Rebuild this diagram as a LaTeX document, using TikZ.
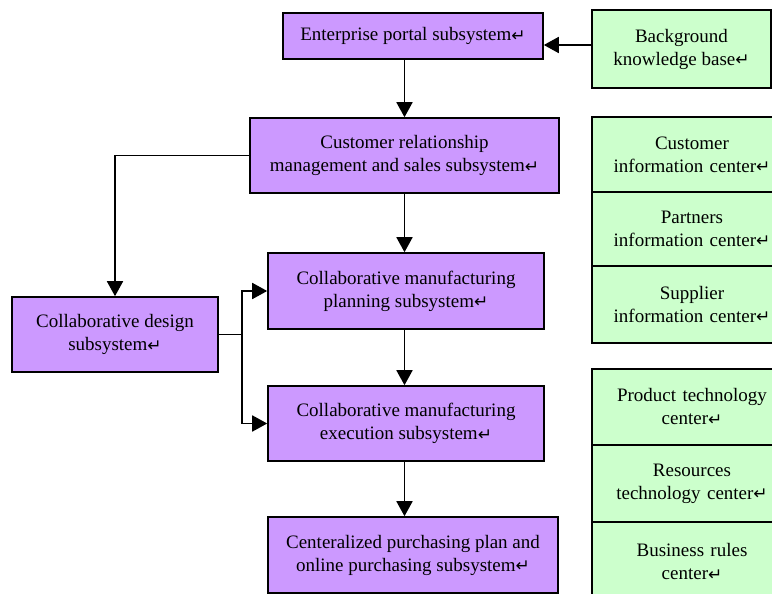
\documentclass[tikz,border=0pt]{standalone}
\usepackage{fontspec}
\setmainfont{Liberation Serif}
\newfontfamily\symfont{DejaVu Sans}
\usetikzlibrary{arrows.meta}
\newcommand{\rmark}{{\symfont\fontsize{17}{17}\selectfont\raisebox{-0.5pt}{↵}}}
\definecolor{purp}{RGB}{204,153,255}
\definecolor{grn}{RGB}{204,255,204}
\tikzset{
  box/.style={draw=black, line width=1.6pt, align=center, inner sep=0pt,
    font=\fontsize{19}{23}\selectfont},
  pbox/.style={box, fill=purp},
  gbox/.style={box, fill=grn},
  arr/.style={line width=1.8pt, -{Triangle[length=15pt,width=16pt]}},
  ln/.style={line width=1.8pt}
}
\begin{document}
\begin{tikzpicture}[x=1pt,y=-1pt]
\clip (0,0) rectangle (772,594);
\fill[white] (0,0) rectangle (772,594);
% purple boxes
\node[pbox, minimum width=260pt, minimum height=46pt] (ent) at (413,36) {Enterprise portal subsystem\rmark};
\node[pbox, minimum width=309pt, minimum height=75pt] (crm) at (404.5,155.5) {Customer relationship\\management and sales subsystem\rmark};
\node[pbox, minimum width=206pt, minimum height=75pt] (cds) at (115,334.5) {Collaborative design\\subsystem\rmark};
\node[pbox, minimum width=276pt, minimum height=76pt] (cmp) at (406,291) {Collaborative manufacturing\\planning subsystem\rmark};
\node[pbox, minimum width=276pt, minimum height=75pt] (cme) at (406,423.5) {Collaborative manufacturing\\execution subsystem\rmark};
\node[pbox, minimum width=290pt, minimum height=76pt] (cpp) at (413,555) {Centeralized purchasing plan and\\online purchasing subsystem\rmark};
% green boxes
\node[gbox, minimum width=179pt, minimum height=78pt] (bkb) at (681.5,49) {Background\\knowledge base\rmark};
\node[gbox, minimum width=200pt, minimum height=75pt, text width=179pt] (cis) at (692,154.5) {Customer\\information center\rmark};
\node[gbox, minimum width=200pt, minimum height=74pt, text width=179pt] (pic) at (692,229) {Partners\\information center\rmark};
\node[gbox, minimum width=200pt, minimum height=77pt, text width=179pt] (sic) at (692,304.5) {Supplier\\information center\rmark};
\node[gbox, minimum width=200pt, minimum height=76pt, text width=179pt] (ptc) at (692,407) {Product technology\\center\rmark};
\node[gbox, minimum width=200pt, minimum height=77pt, text width=179pt] (rtc) at (692,483.5) {Resources\\technology center\rmark};
\node[gbox, minimum width=200pt, minimum height=80pt, text width=179pt] (brc) at (692,562) {Business rules\\center\rmark};
% connectors
\coordinate (bk) at (592,45);
\draw[arr] (bk) -- (bk -| ent.east);
\draw[arr] (ent.south -| crm.north) -- (crm.north);
\draw[arr] (crm.west) -| (cds.north);
\draw[arr] (crm.south) -- (crm.south |- cmp.north);
\coordinate (a1) at (cmp.south -| crm.south);
\coordinate (a2) at (cme.north -| crm.south);
\draw[arr] (a1) -- (a2);
\coordinate (b1) at (cme.south -| crm.south);
\coordinate (b2) at (cpp.north -| crm.south);
\draw[arr] (b1) -- (b2);
\coordinate (j) at (242,334.5);
\draw[ln] (cds.east) -- (j);
\draw[arr] (j) |- (cmp.west);
\draw[arr] (j) |- (cme.west);
\end{tikzpicture}
\end{document}
